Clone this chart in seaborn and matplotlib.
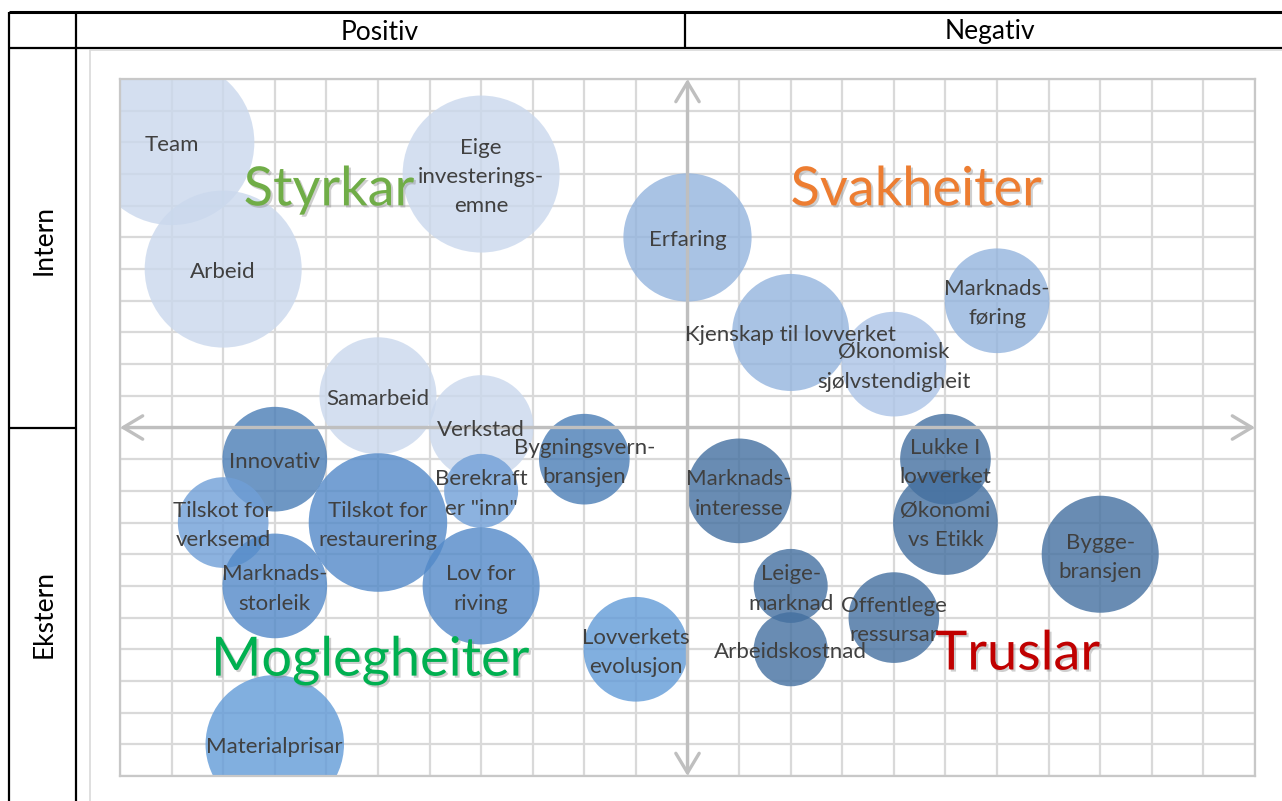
import numpy as np
import pandas as pd
import seaborn as sns
import matplotlib.pyplot as plt
import matplotlib.patheffects as pe
import matplotlib.transforms as mtransforms

# SWOT bubbles: label, position on the -11..11 grid, bubble size, series
labels = [
    'Team', 'Arbeid', 'Eige\ninvesterings-\nemne', 'Samarbeid', 'Verkstad',
    'Erfaring', 'Kjenskap til lovverket', 'Økonomisk\nsjølvstendigheit', 'Marknads-\nføring',
    'Innovativ', 'Tilskot for\nverksemd', 'Marknads-\nstorleik', 'Tilskot for\nrestaurering',
    'Berekraft\ner "inn"', 'Lov for\nriving', 'Bygningsvern-\nbransjen', 'Lovverkets\nevolusjon',
    'Materialprisar',
    'Marknads-\ninteresse', 'Lukke I\nlovverket', 'Økonomi\nvs Etikk', 'Bygge-\nbransjen',
    'Leige-\nmarknad', 'Arbeidskostnad', 'Offentlege\nressursar',
]
x_vals = [-10, -9, -4, -6, -4,
          0, 2, 4, 6,
          -8, -9, -8, -6, -4, -4, -2, -1, -8,
          1, 5, 5, 8, 2, 2, 4]
y_vals = [9, 5, 8, 1, 0,
          6, 3, 2, 4,
          -1, -3, -5, -3, -2, -5, -1, -7, -10,
          -2, -1, -3, -4, -5, -7, -6]
bubble_size = [10, 9, 9, 5, 4,
               6, 5, 4, 4,
               4, 3, 4, 7, 2, 5, 3, 4, 7,
               4, 3, 4, 5, 2, 2, 3]
series = ['S', 'S', 'S', 'S', 'S',
          'W1', 'W1', 'W2', 'W1',
          'O1', 'O3', 'O2', 'O2', 'O3', 'O2', 'O1', 'O4', 'O4',
          'T', 'T', 'T', 'T', 'T', 'T', 'T']

df = pd.DataFrame({'label': labels, 'x': x_vals, 'y': y_vals,
                   'size': bubble_size, 'series': series})

palette = {
    'S': '#CAD8ED', 'W1': '#94B4DE', 'W2': '#ACC4E7',
    'O1': '#4A7DB6', 'O2': '#5289C8', 'O3': '#709FD7', 'O4': '#629BD8',
    'T': '#4470A0',
}

sns.set_theme(style='white')
plt.rcParams['font.family'] = ['Lato', 'DejaVu Sans']

W, H = 1282, 801
fig = plt.figure(figsize=(W / 100, H / 100), dpi=100)

# table frame around the chart, drawn in pixel coordinates
frame = fig.add_axes([0, 0, 1, 1], zorder=0)
frame.set_xlim(0, W)
frame.set_ylim(H, 0)
frame.axis('off')
black = dict(color='black', lw=1.6, solid_capstyle='butt')
frame.plot([9, W], [12, 12], **dict(black, lw=2.2))
frame.plot([9, W], [48, 48], **black)
frame.plot([9, 9], [12, H], **black)
frame.plot([76, 76], [12, H], **black)
frame.plot([685, 685], [12, 48], **black)
frame.plot([9, 76], [428, 428], **black)
frame.plot([90, 90], [50, H], color='#D9D9D9', lw=1.2)
frame.plot([90, W], [50, 50], color='#D9D9D9', lw=1.2)
head = dict(fontsize=19, color='black', ha='center', va='center')
frame.text(380, 32, 'Positiv', **head)
frame.text(990, 32, 'Negativ', **head)
frame.text(44, 240, 'Intern', rotation=90, **head)
frame.text(44, 614, 'Ekstern', rotation=90, **head)

# bubble chart
ax = fig.add_axes([120 / W, 1 - 776 / H, 1135 / W, 697 / H], zorder=1)
ax.set_facecolor('white')
ax.set_xlim(-11, 11)
ax.set_ylim(-11, 11)
ax.set_xticks(range(-11, 12))
ax.set_yticks(range(-11, 12))
ax.tick_params(length=0, labelbottom=False, labelleft=False)
ax.grid(True, color='#D9D9D9', lw=1.6)
ax.set_axisbelow(True)
for sp in ax.spines.values():
    sp.set_color('#C8C8C8')
    sp.set_linewidth(1.6)

arrow = dict(arrowstyle='<->, head_length=0.5, head_width=0.3', color='#BFBFBF',
             lw=2.4, mutation_scale=28, shrinkA=0, shrinkB=0)
ax.annotate('', xy=(11, 0), xytext=(-11, 0), arrowprops=arrow)
ax.annotate('', xy=(0, 11), xytext=(0, -11), arrowprops=arrow)

K = 1420  # points^2 per size unit
sns.scatterplot(data=df, x='x', y='y', hue='series', palette=palette,
                size='size', sizes=(2 * K, 10 * K), size_norm=(2, 10),
                alpha=0.8, edgecolor='none', linewidth=0, legend=False, ax=ax)
ax.set_xlabel('')
ax.set_ylabel('')

# data labels sit a few pixels below the bubble centre, like in Excel
label_tr = mtransforms.offset_copy(ax.transData, fig=fig, y=-3, units='dots')
for _, r in df.iterrows():
    ax.text(r['x'], r['y'], r['label'], ha='center', va='center',
            multialignment='center', fontsize=16, color='#404040',
            linespacing=1.58, zorder=5, transform=label_tr)

shadow = [pe.withSimplePatchShadow(offset=(1.5, -1.5), shadow_rgbFace='#888888', alpha=0.4)]
titles = [('Styrkar', -6.95, 7.5, '#70AD47'),
          ('Svakheiter', 4.43, 7.5, '#ED7D31'),
          ('Moglegheiter', -6.15, -7.35, '#00B050'),
          ('Truslar', 6.4, -7.15, '#C00000')]
for txt, tx, ty, col in titles:
    ax.text(tx, ty, txt, ha='center', va='center', fontsize=39, color=col,
            path_effects=shadow, zorder=6)

fig.savefig('out.png', dpi=100)
